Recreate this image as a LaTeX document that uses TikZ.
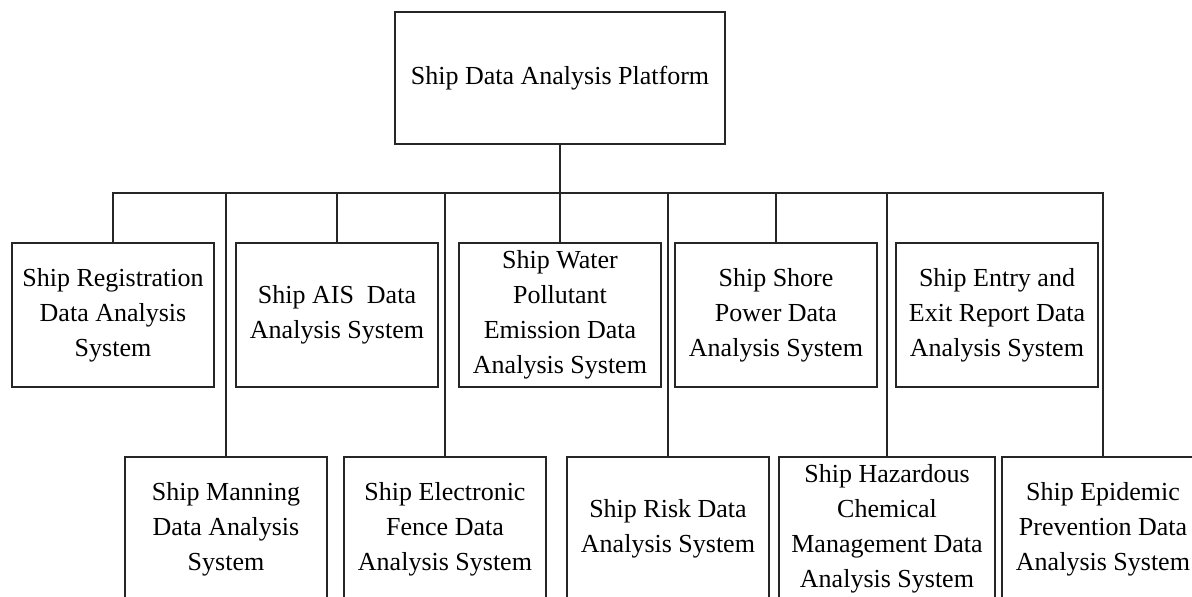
\documentclass[tikz,border=0pt]{standalone}
\usepackage{fontspec}
\setmainfont{Liberation Serif}
\begin{document}
\begin{tikzpicture}[x=1pt,y=-1pt,
  box/.style={draw=black!85, line width=1.4pt, minimum width=202pt, minimum height=144pt,
    inner sep=0pt, align=center, font=\fontsize{26}{35}\selectfont, text=black},
  link/.style={draw=black!85, line width=1.4pt}]
\useasboundingbox (0,0) rectangle (1192,597);
\clip (0,0) rectangle (1192,597);
\fill[white] (0,0) rectangle (1192,597);
% root
\node[box, minimum width=330pt, minimum height=132pt] (top) at (560,78) {Ship Data Analysis Platform};
% upper row
\node[box] (reg) at (113,315) {Ship Registration\\Data Analysis\\System};
\node[box] (ais) at (337,315) {Ship AIS\ \ Data\\Analysis System};
\node[box] (wat) at (560,315) {Ship Water\\Pollutant\\Emission Data\\Analysis System};
\node[box] (sho) at (776,315) {Ship Shore\\Power Data\\Analysis System};
\node[box] (ent) at (997,315) {Ship Entry and\\Exit Report Data\\Analysis System};
% lower row
\node[box] (man) at (226,529) {Ship Manning\\Data Analysis\\System};
\node[box] (fen) at (445,529) {Ship Electronic\\Fence Data\\Analysis System};
\node[box] (ris) at (668,529) {Ship Risk Data\\Analysis System};
\node[box, minimum width=216pt] (haz) at (887,529) {Ship Hazardous\\Chemical\\Management Data\\Analysis System};
\node[box] (epi) at (1103,529) {Ship Epidemic\\Prevention Data\\Analysis System};
% bus
\coordinate (bl) at (113,193);
\coordinate (br) at (1103,193);
\draw[link] (reg.north) -- (bl) -- (br) -- (epi.north);
\draw[link] (top.south) -- (top.south |- bl);
\draw[link] (ais.north) -- (ais.north |- bl);
\draw[link] (wat.north) -- (wat.north |- bl);
\draw[link] (sho.north) -- (sho.north |- bl);
\draw[link] (man.north) -- (man.north |- bl);
\draw[link] (fen.north) -- (fen.north |- bl);
\draw[link] (ris.north) -- (ris.north |- bl);
\draw[link] (haz.north) -- (haz.north |- bl);
\end{tikzpicture}
\end{document}
